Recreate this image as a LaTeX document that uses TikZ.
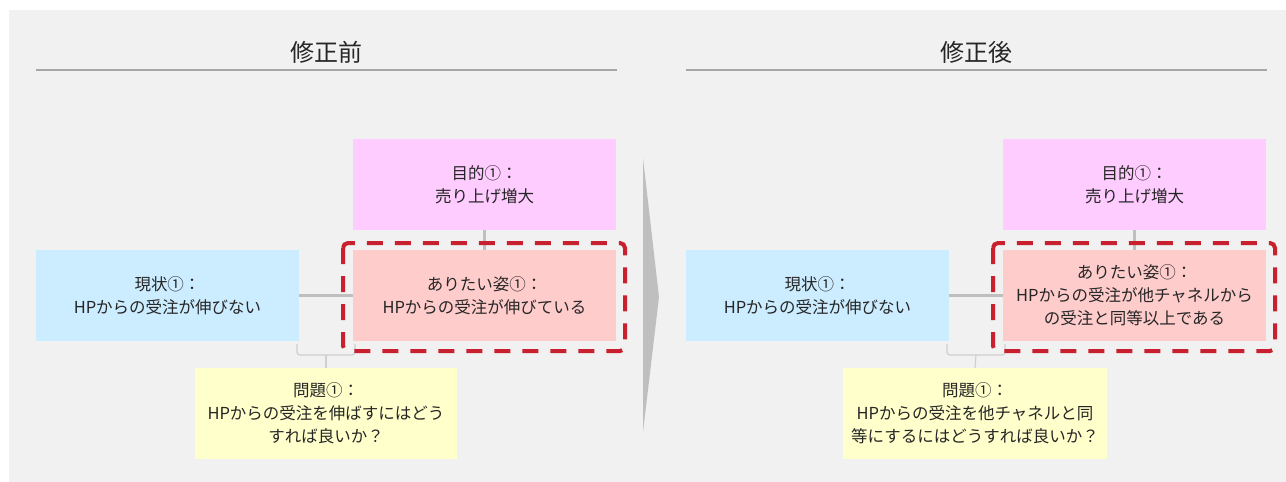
\documentclass[tikz,border=0pt]{standalone}
\usepackage{fontspec}
\setmainfont{Noto Sans CJK JP}
\definecolor{bgc}{HTML}{F0F1F0}
\definecolor{pinkc}{HTML}{FFCCFF}
\definecolor{redc}{HTML}{FFCCCC}
\definecolor{bluec}{HTML}{CCECFF}
\definecolor{yelc}{HTML}{FFFFCC}
\definecolor{dashc}{HTML}{C8202F}
\definecolor{linec}{HTML}{BFBFBF}
\definecolor{thinc}{HTML}{CFCFCF}
\definecolor{txtc}{HTML}{262626}
\definecolor{rulec}{HTML}{A6A6A6}
\tikzset{
  box/.style={rectangle, inner sep=0pt, minimum width=263pt, minimum height=91pt,
    align=center, text=txtc, font=\fontsize{16.5}{23}\selectfont},
  title/.style={text=txtc, font=\fontsize{24}{28}\selectfont, inner sep=0pt},
  conn/.style={draw=linec, line width=2.6pt},
  brk/.style={draw=thinc, line width=1.2pt, rounded corners=3pt},
  dashbox/.style={draw=dashc, line width=4pt, dash pattern=on 16pt off 12pt, rounded corners=5pt},
  rulel/.style={draw=rulec, line width=1.8pt}
}
\begin{document}
\begin{tikzpicture}[x=1pt,y=-1pt]
\useasboundingbox (0,0) rectangle (1286,482);
\fill[white] (0,0) rectangle (1286,482);
\fill[bgc] (9,10) rectangle (1286,482);
% arrow
\fill[linec] (643,158) -- (659,297) -- (643,432) -- cycle;
\foreach \s/\t/\ttl in {0/L/修正前, 650/R/修正後} {
  \begin{scope}[xshift=\s]
  \node[title] (ttl\t) at (326,52) {\ttl};
  \coordinate (rl\t) at (36,70);
  \coordinate (rr\t) at (617,70);
  \draw[rulel] (rl\t) -- (rr\t);
  \end{scope}
}
% left
\node[box, fill=bluec] (blueL) at (167.5,295.5) {現状①：\\HPからの受注が伸びない};
\node[box, fill=pinkc] (pinkL) at (484.5,184.5) {目的①：\\売り上げ増大};
\node[box, fill=redc] (redL) at (484.5,295.5) {ありたい姿①：\\HPからの受注が伸びている};
\node[box, fill=yelc, minimum width=262pt] (yelL) at (326,413.5) {問題①：\\HPからの受注を伸ばすにはどう\\すれば良いか？};
% right
\node[box, fill=bluec] (blueR) at (817.5,295.5) {現状①：\\HPからの受注が伸びない};
\node[box, fill=pinkc] (pinkR) at (1134.5,184.5) {目的①：\\売り上げ増大};
\node[box, fill=redc] (redR) at (1134.5,295.5) {ありたい姿①：\\HPからの受注が他チャネルから\\の受注と同等以上である};
\node[box, fill=yelc, minimum width=264pt] (yelR) at (975,413.5) {問題①：\\HPからの受注を他チャネルと同\\等にするにはどうすれば良いか？};
\foreach \t/\s in {L/0, R/650} {
  \draw[conn] (blue\t.east) -- (red\t.west);
  \draw[conn] (pink\t.south) -- (red\t.north);
  \begin{scope}[xshift=\s]
  \coordinate (b1\t) at (297,344);
  \coordinate (b2\t) at (297,355);
  \coordinate (b3\t) at (355,355);
  \coordinate (b4\t) at (355,344);
  \coordinate (bm\t) at (326,355);
  \coordinate (d1\t) at (343,243);
  \coordinate (d2\t) at (625,351);
  \end{scope}
  \draw[brk] (b1\t) -- (b2\t) -- (b3\t) -- (b4\t);
  \draw[brk] (bm\t) -- (yel\t.north);
  \draw[dashbox] (d1\t) rectangle (d2\t);
}
\end{tikzpicture}
\end{document}
